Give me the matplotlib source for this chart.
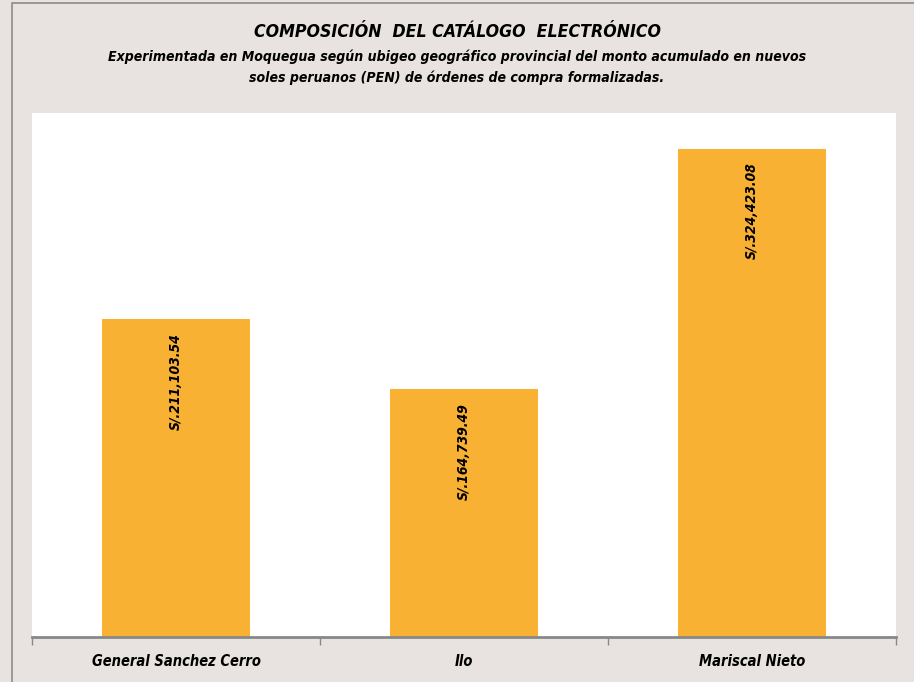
import matplotlib
matplotlib.use("Agg")
import matplotlib.pyplot as plt
from matplotlib.patches import Rectangle

categories = ["General Sanchez Cerro", "Ilo", "Mariscal Nieto"]
values = [211103.54, 164739.49, 324423.08]
labels = ["S/.211,103.54", "S/.164,739.49", "S/.324,423.08"]

FONT = ["DejaVu Sans"]
STRETCH = "condensed"
W, H = 914, 682
fig = plt.figure(figsize=(W / 100, H / 100), dpi=100)
bg = "#E8E3E0"
fig.patch.set_facecolor(bg)

# outer border
fig.add_artist(Rectangle((12 / W, -0.01), 1.02, 1 - 3 / H + 0.01, transform=fig.transFigure,
                         fill=False, edgecolor="#8c8c8c", linewidth=1.2))

ax = fig.add_axes([32 / W, 1 - 637 / H, (896 - 32) / W, (637 - 113) / H])
ax.set_facecolor("white")
x = list(range(len(categories)))
ax.bar(x, values, width=0.515, color="#F8B133", zorder=2)
ax.set_xlim(-0.5, 2.5)
ax.set_ylim(0, 348000)
ax.set_yticks([])
for s in ["top", "right", "left"]:
    ax.spines[s].set_visible(False)
ax.spines["bottom"].set_color("#888888")
ax.spines["bottom"].set_linewidth(2)
ax.spines["bottom"].set_zorder(3)
ax.set_xticks([-0.5, 0.5, 1.5, 2.5])
ax.set_xticklabels([])
ax.set_xticks(x, minor=True)
ax.set_xticklabels(categories, minor=True, fontfamily=FONT, fontweight="bold",
                   fontstyle="italic", fontsize=10.5, fontstretch=STRETCH)
ax.tick_params(axis="x", which="major", length=6, color="#888888", width=1)
ax.tick_params(axis="x", which="minor", length=0, pad=12)

for xi, v, lab in zip(x, values, labels):
    ax.annotate(lab, (xi, v), xytext=(0, -10), textcoords="offset points",
                rotation=90, ha="center", va="top",
                fontfamily=FONT, fontweight="bold", fontstyle="italic", fontsize=10,
                fontstretch=STRETCH, color="black", zorder=4)

fig.text(0.5, 1 - 32 / H, "COMPOSICIÓN  DEL CATÁLOGO  ELECTRÓNICO", ha="center", va="center",
         fontfamily=FONT, fontweight="bold", fontstyle="italic", fontsize=12.7,
         fontstretch=STRETCH)
fig.text(0.5, 1 - 67.5 / H,
         "Experimentada en Moquegua según ubigeo geográfico provincial del monto acumulado en nuevos\nsoles peruanos (PEN) de órdenes de compra formalizadas.",
         ha="center", va="center", fontfamily=FONT, fontweight="bold", fontstyle="italic",
         fontsize=10.1, linespacing=1.55, fontstretch=STRETCH)

fig.savefig("out.png", dpi=100, facecolor=bg)
